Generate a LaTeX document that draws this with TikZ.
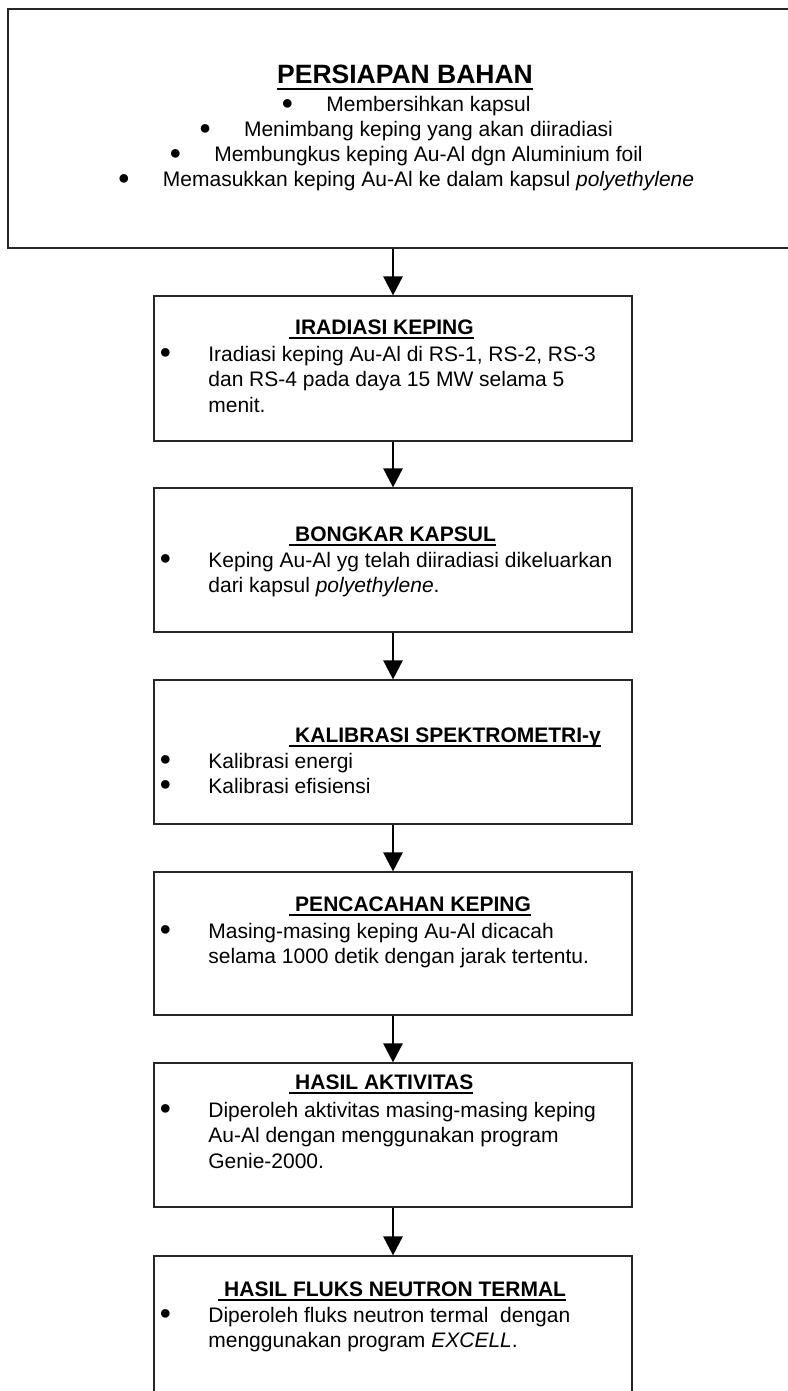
\documentclass[tikz,border=0pt]{standalone}
\usepackage{fontspec}
\setmainfont{Liberation Sans}
\usetikzlibrary{arrows.meta}

\newcommand{\ujudul}[1]{\setbox0=\hbox{#1}\rlap{\rule[-0.24em]{\wd0}{0.08em}}\box0}
\newcommand{\titik}{\raisebox{0.12em}{\fontsize{10}{10}\selectfont ●}}
\newcommand{\bul}{\makebox[22.5pt][l]{\titik}}

\begin{document}
\begin{tikzpicture}[x=0.5pt,y=-0.5pt]
     \tikzset{kotak/.style={draw=black!85, line width=0.6pt, inner sep=0pt, minimum width=239pt},
              panah/.style={line width=1.35pt, -{Triangle[length=9.5pt,width=9.5pt]}},
              isi/.style={anchor=base west, inner sep=0pt, font=\fontsize{10.5}{12.75}\selectfont},
              judul/.style={anchor=base west, inner sep=0pt, font=\fontsize{10.5}{12.75}\selectfont\bfseries}}
     \useasboundingbox (0,0) rectangle (787,1391);
     \node [kotak, minimum width=398.5pt, minimum height=119.5pt] (persiapan) at (406.5,128.5) {};
     \node [kotak, minimum height=72.5pt] (iradiasi) at (393,368.5) {};
     \node [kotak, minimum height=72pt] (bongkar) at (393,560) {};
     \node [kotak, minimum height=72pt] (kalibrasi) at (393,752) {};
     \node [kotak, minimum height=71.5pt] (pencacahan) at (393,943.5) {};
     \node [kotak, minimum height=72pt] (aktivitas) at (393,1135) {};
     \node [kotak, minimum height=82pt] (fluks) at (393,1338) {};
     \draw [panah] (persiapan.south -| iradiasi.north) -- (iradiasi.north);
     \draw [panah] (iradiasi) -- (bongkar);
     \draw [panah] (bongkar) -- (kalibrasi);
     \draw [panah] (kalibrasi) -- (pencacahan);
     \draw [panah] (pencacahan) -- (aktivitas);
     \draw [panah] (aktivitas) -- (fluks);
     \node [anchor=base, inner sep=0pt, font=\fontsize{13.25}{16}\selectfont\bfseries] (jpersiapan) at (405,84) {\ujudul{PERSIAPAN BAHAN}};
     \node [isi, anchor=base, font=\fontsize{10.5}{12.5}\selectfont] (ipersiapan) at (406,112)
          {\begin{tabular}[t]{@{}c@{}}
           \bul Membersihkan kapsul\\
           \bul Menimbang keping yang akan diiradiasi\\
           \bul Membungkus keping Au-Al dgn Aluminium foil\\
           \bul Memasukkan keping Au-Al ke dalam kapsul \textit{polyethylene}
           \end{tabular}};
     \node [judul] (jiradiasi) at (289,334) {\ujudul{\ IRADIASI KEPING}};
     \node [isi] (iiradiasi) at (159,361)
          {\begin{tabular}[t]{@{}p{24.5pt}@{}l@{}}
           \titik & Iradiasi keping Au-Al di RS-1, RS-2, RS-3\\
           & dan RS-4 pada daya 15 MW selama 5\\
           & menit.
           \end{tabular}};
     \node [judul] (jbongkar) at (289,541) {\ujudul{\ BONGKAR KAPSUL}};
     \node [isi] (ibongkar) at (159,567)
          {\begin{tabular}[t]{@{}p{24.5pt}@{}l@{}}
           \titik & Keping Au-Al yg telah diiradiasi dikeluarkan\\
           & dari kapsul \textit{polyethylene}.
           \end{tabular}};
     \node [judul] (jkalibrasi) at (289,742) {\ujudul{\ KALIBRASI SPEKTROMETRI-γ}};
     \node [isi] (ikalibrasi) at (159,768)
          {\begin{tabular}[t]{@{}p{24.5pt}@{}l@{}}
           \titik & Kalibrasi energi\\
           \titik & Kalibrasi efisiensi
           \end{tabular}};
     \node [judul] (jpencacahan) at (289,911) {\ujudul{\ PENCACAHAN KEPING}};
     \node [isi] (ipencacahan) at (159,938)
          {\begin{tabular}[t]{@{}p{24.5pt}@{}l@{}}
           \titik & Masing-masing keping Au-Al dicacah\\
           & selama 1000 detik dengan jarak tertentu.
           \end{tabular}};
     \node [judul] (jaktivitas) at (289,1089) {\ujudul{\ HASIL AKTIVITAS}};
     \node [isi] (iaktivitas) at (159,1117)
          {\begin{tabular}[t]{@{}p{24.5pt}@{}l@{}}
           \titik & Diperoleh aktivitas masing-masing keping\\
           & Au-Al dengan menggunakan program\\
           & Genie-2000.
           \end{tabular}};
     \node [judul] (jfluks) at (218,1296) {\ujudul{\ HASIL FLUKS NEUTRON TERMAL}};
     \node [isi] (ifluks) at (159,1322)
          {\begin{tabular}[t]{@{}p{24.5pt}@{}l@{}}
           \titik & Diperoleh fluks neutron termal\ \ dengan\\
           & menggunakan program \textit{EXCELL}.
           \end{tabular}};
   \end{tikzpicture}
\end{document}
